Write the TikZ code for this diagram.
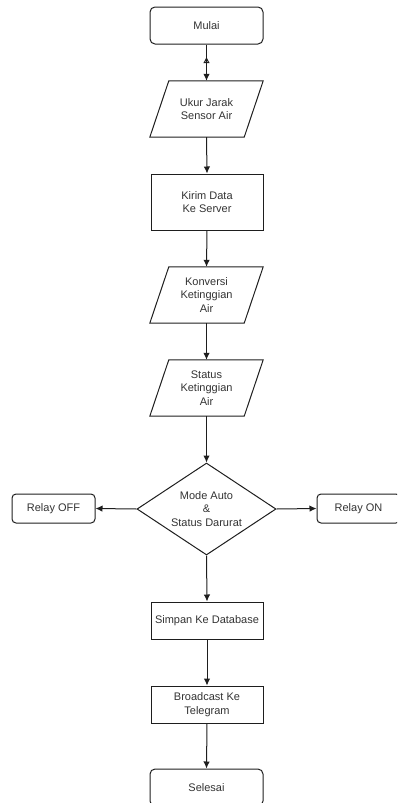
\documentclass[tikz,border=0pt]{standalone}
\usepackage{fontspec}
\setmainfont{Liberation Sans}
\usetikzlibrary{shapes.geometric,arrows.meta,decorations.markings}
\definecolor{ink}{RGB}{51,51,51}
\definecolor{garisink}{RGB}{30,30,30}

\begin{document}
\begin{tikzpicture}[x=1pt,y=-1pt]
        \tikzstyle{every node} = [rectangle, text=ink, align=center, inner sep=0pt, font=\fontsize{11}{13.5}\selectfont]
        \tikzstyle{garis} = [draw=garisink, line width=1pt]
        \tikzstyle{terminal} = [garis, rounded corners=5pt, minimum width=113pt, minimum height=37pt]
        \tikzstyle{proses} = [garis, minimum width=112pt]
        \tikzstyle{io} = [minimum width=113pt, minimum height=56pt]
        \tikzstyle{relay} = [garis, rounded corners=4pt, minimum width=83pt, minimum height=29pt]
        \useasboundingbox (0,0) rectangle (397,803);
        \clip (0,0) rectangle (397,803);
        \node[terminal] (mulai) at (206.5,25.5) {Mulai};
        \node[io] (ukur) at (206.5,109) {Ukur Jarak\\Sensor Air};
        \node[proses, minimum height=56pt] (kirim) at (207,202) {Kirim Data\\Ke Server};
        \node[io] (konversi) at (206.5,295) {Konversi\\Ketinggian\\Air};
        \node[io] (status) at (206.5,388) {Status\\Ketinggian\\Air};
        \node[garis, diamond, aspect=1.5, minimum width=139pt, minimum height=92pt] (mode) at (206.5,509) {Mode Auto\\\&\\Status Darurat};
        \node[relay] (relayoff) at (53.5,508.5) {Relay OFF};
        \node[relay] (relayon) at (358.5,508.5) {Relay ON};
        \node[proses, minimum height=37pt] (simpan) at (207,620.5) {Simpan Ke Database};
        \node[proses, minimum height=37pt] (broadcast) at (207,704.5) {Broadcast Ke\\Telegram};
        \node[terminal] (selesai) at (206.5,787.5) {Selesai};
        \foreach \n in {ukur, konversi, status}
            \draw[garis] ([xshift=19pt]\n.north west) -- (\n.north east) -- ([xshift=-19pt]\n.south east) -- (\n.south west) -- cycle;
        \draw[garis, -{Latex[length=7pt,width=6.5pt]}, postaction={decorate}, decoration={markings, mark=at position 0.35 with {\arrowreversed{Triangle[open,length=6pt,width=6pt]}}}] (mulai) -- (ukur);
        \foreach \from/\to in {ukur/kirim, kirim/konversi, konversi/status, status/mode, mode/simpan, simpan/broadcast, broadcast/selesai}
            \draw[garis, -{Latex[length=7pt,width=6.5pt]}] (\from.south) -- (\to.north);
        \draw[garis, -{Latex[length=7pt,width=6.5pt]}] (mode.west) -- (relayoff.east);
        \draw[garis, -{Latex[length=7pt,width=6.5pt]}] (mode.east) -- (relayon.west);
    \end{tikzpicture}
\end{document}
